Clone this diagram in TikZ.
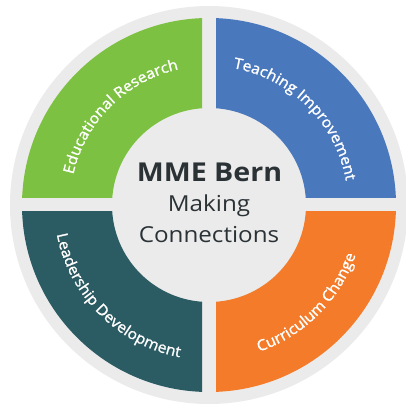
\documentclass[tikz,border=0pt]{standalone}
\usepackage{fontspec}
\setmainfont{Open Sans}[FakeStretch=1.1]
\newfontfamily\ringfont{Open Sans}[FakeStretch=1.05, FakeBold=1.4]
\usetikzlibrary{decorations.text}
\definecolor{ringgray}{HTML}{EBEBEB}
\definecolor{edugreen}{HTML}{7DC142}
\definecolor{teachblue}{HTML}{4A78BD}
\definecolor{leadteal}{HTML}{2B5B63}
\definecolor{currorange}{HTML}{F47B29}
\definecolor{titlegray}{HTML}{2B3236}
\tikzset{
	quarter/.style={even odd rule},
	ringlabel/.style={decorate, decoration={text along path, text align=center,
		text={|\color{white}\ringfont\fontsize{15}{15}\selectfont|#1}}},
	centertext/.style={anchor=base, text=titlegray, inner sep=0pt}
}

\begin{document}
\begin{tikzpicture}[x=1pt, y=1pt]
			%%%%% START %%%%%
			
			\useasboundingbox (-209, -201) rectangle (197, 205);
			
			\fill[ringgray] (0, 0) circle (199);
			
			\begin{scope}
				\clip (-200, 7) rectangle (-7, 200);
				\fill[edugreen, quarter] (0, 0) circle (187) (0, 0) circle (97);
			\end{scope}
			\begin{scope}
				\clip (7, 7) rectangle (200, 200);
				\fill[teachblue, quarter] (0, 0) circle (187) (0, 0) circle (97);
			\end{scope}
			\begin{scope}
				\clip (-200, -7) rectangle (-7, -200);
				\fill[leadteal, quarter] (0, 0) circle (187) (0, 0) circle (97);
			\end{scope}
			\begin{scope}
				\clip (7, -7) rectangle (200, -200);
				\fill[currorange, quarter] (0, 0) circle (187) (0, 0) circle (97);
			\end{scope}
			
			\path[ringlabel={Educational Research}] (178:139) arc[start angle=178, end angle=92, radius=139];
			\path[ringlabel={Teaching Improvement}] (88:139) arc[start angle=88, end angle=2, radius=139];
			\path[ringlabel={Leadership Development}] (182:155) arc[start angle=182, end angle=268, radius=155];
			\path[ringlabel={Curriculum Change}] (272:155) arc[start angle=272, end angle=358, radius=155];
			
			\node[centertext, font=\fontsize{26}{26}\selectfont\bfseries] (mme) at (0.5, 23) {MME Bern};
			\node[centertext, font=\fontsize{22}{22}\selectfont] (making) at (0, -7) {Making};
			\node[centertext, font=\fontsize{22}{22}\selectfont] (connections) at (0, -38) {Connections};
			
			%%%%% END %%%%%
		\end{tikzpicture}
\end{document}
